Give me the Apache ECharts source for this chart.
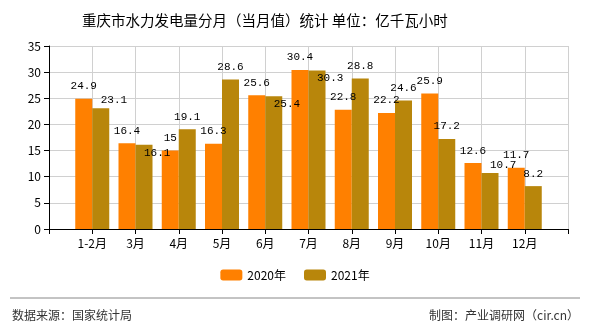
<!DOCTYPE html>
<html>
<head>
<meta charset="utf-8">
<script src="https://cdn.jsdelivr.net/npm/echarts@6/dist/echarts.min.js"></script>
<style>
html,body{margin:0;padding:0;background:#fff;}
#c{width:590px;height:330px;}
</style>
</head>
<body>
<div id="c"></div>
<script>
var titleText = '重庆市水力发电量分月（当月值）统计 单位：亿千瓦小时';
var categories = ['1-2月','3月','4月','5月','6月','7月','8月','9月','10月','11月','12月'];
var seriesNames = ['2020年','2021年'];
var values2020 = [24.9,16.4,15,16.3,25.6,30.4,22.8,22.2,25.9,12.6,11.7];
var values2021 = [23.1,16.1,19.1,28.6,25.4,30.3,28.8,24.6,17.2,10.7,8.2];
var yTicks = [0,5,10,15,20,25,30,35];
var sourceText = '数据来源：国家统计局';
var creditText = '制图：产业调研网（cir.cn）';

var axisCats = [''].concat(categories).concat(['']);
function pad(arr){ return ['-'].concat(arr).concat(['-']); }

var cjk = '"Noto Sans CJK SC", "DejaVu Sans", sans-serif';
var mono = '"Liberation Mono", "Noto Sans CJK SC", monospace';

var chart = echarts.init(document.getElementById('c'));
var labelStyle = {show:true,position:'top',distance:7,fontFamily:mono,fontSize:11,color:'#000'};
chart.setOption({
  animation:false,
  backgroundColor:'#fff',
  title:{text:titleText,left:77,top:8,textStyle:{fontFamily:cjk,fontSize:14.5,fontWeight:'normal',color:'#000'}},
  grid:{left:49,right:22,top:46,bottom:101,containLabel:false},
  legend:{bottom:44,left:'center',itemWidth:22,itemHeight:11,itemGap:18,
    textStyle:{fontFamily:cjk,fontSize:12,color:'#000'},data:seriesNames},
  xAxis:{type:'category',data:axisCats,boundaryGap:false,
    axisLine:{lineStyle:{color:'#000'}},
    axisTick:{show:true,alignWithLabel:true,lineStyle:{color:'#000'}},
    axisLabel:{interval:0,fontFamily:cjk,fontSize:12,color:'#000',margin:8},
    splitLine:{show:true,lineStyle:{color:'#d0d0d0'}}},
  yAxis:{type:'value',min:yTicks[0],max:yTicks[yTicks.length-1],interval:5,
    axisLine:{show:true,lineStyle:{color:'#000'}},
    axisTick:{show:true,lineStyle:{color:'#000'}},
    axisLabel:{fontFamily:cjk,fontSize:12,color:'#000'},
    splitLine:{show:true,lineStyle:{color:'#d0d0d0'}}},
  series:[
    {name:seriesNames[0],type:'bar',data:pad(values2020),barWidth:17,barGap:'0%',
     itemStyle:{color:'#FF8000'},label:labelStyle},
    {name:seriesNames[1],type:'bar',data:pad(values2021),barWidth:17,barGap:'0%',
     itemStyle:{color:'#B8860B'},label:labelStyle}
  ],
  graphic:[
    {type:'line',shape:{x1:10,y1:298,x2:580,y2:298},style:{stroke:'#888',lineWidth:1}},
    {type:'text',left:12,top:309,style:{text:sourceText,font:'12px '+cjk,fill:'#333'}},
    {type:'text',right:11,top:309,style:{text:creditText,font:'12px '+cjk,fill:'#333'}}
  ]
});

// Avoid overlap of the 2021 labels with the 2020 labels (like the original)
chart.setOption({
  series:[{},{
    labelLayout:function(params){
      var i = params.dataIndex - 1;
      if (i < 0 || i >= values2020.length) return {};
      var orangeTop = chart.convertToPixel({seriesIndex:0},[params.dataIndex, values2020[i]])[1];
      var brownTop = params.rect.y;
      var orangeCenter = orangeTop - 12.5;
      var lr = params.labelRect;
      var brownCenter = lr.y + lr.height/2;
      if (Math.abs(brownCenter - orangeCenter) < 12) {
        var c = orangeCenter + 14;
        if (c >= brownTop - 2) c = brownTop + 8;
        return {y: lr.y + (c - brownCenter)};
      }
      return {};
    }
  }]
});
</script>
</body>
</html>
